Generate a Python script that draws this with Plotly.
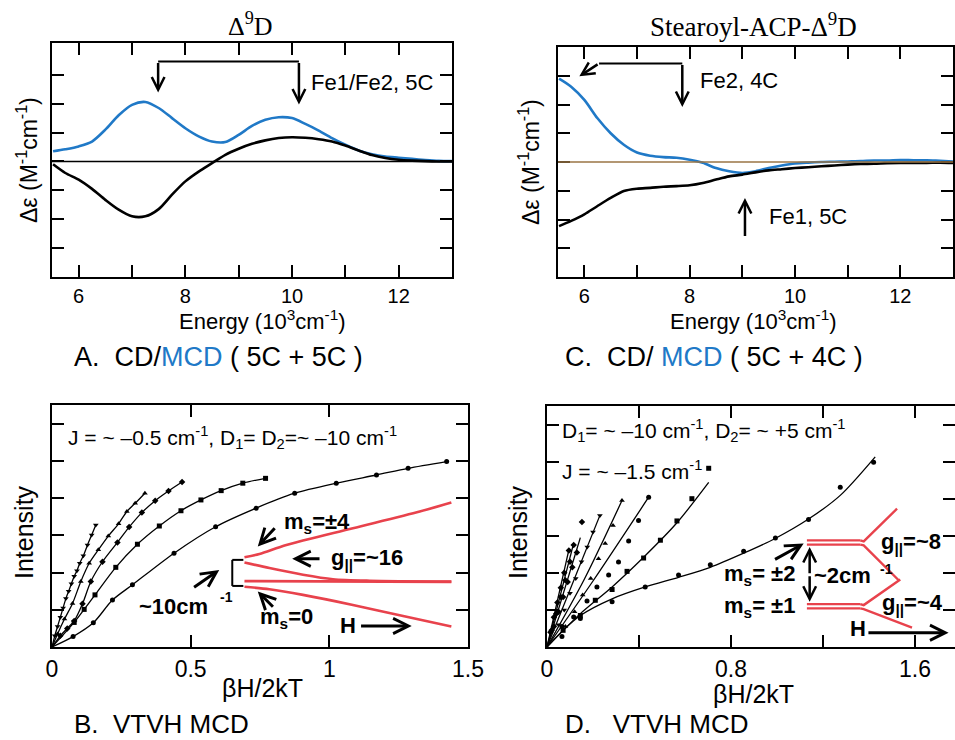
import plotly.graph_objects as go

W, H = 955, 740
SANS = "Liberation Sans, Arial, sans-serif"
SERIF = "Liberation Serif, Times New Roman, serif"
BLUE = "#2079c7"
RED = "#e8424c"

# ---------------- Panel A (Delta9D): CD (black) / MCD (blue) ----------------
energy_a = [5.52, 5.75, 6.0, 6.25, 6.5, 6.75, 7.0, 7.25, 7.5, 7.75, 8.0, 8.25, 8.5, 8.75,
            9.0, 9.25, 9.5, 9.75, 10.0, 10.25, 10.5, 10.75, 11.0, 11.25, 11.5, 11.75,
            12.0, 12.25, 12.5, 12.75, 13.0]
mcd_a = [0.35, 0.42, 0.52, 0.69, 1.10, 1.60, 1.96, 2.06, 1.85, 1.50, 1.15, 0.87, 0.69, 0.67,
         0.92, 1.23, 1.44, 1.53, 1.50, 1.30, 1.07, 0.81, 0.58, 0.38, 0.25, 0.17,
         0.13, 0.09, 0.05, 0.02, 0.01]
cd_a = [-0.10, -0.40, -0.63, -0.95, -1.33, -1.67, -1.90, -1.90, -1.65, -1.15, -0.69, -0.35, -0.06, 0.23,
        0.44, 0.61, 0.73, 0.81, 0.84, 0.82, 0.77, 0.69, 0.55, 0.38, 0.22, 0.12,
        0.06, 0.03, 0.01, 0.0, 0.0]

# ---------------- Panel C (Stearoyl-ACP-Delta9D) ----------------
energy_c = energy_a
mcd_c = [2.90, 2.62, 2.16, 1.52, 1.00, 0.60, 0.33, 0.22, 0.17, 0.15, 0.08, -0.03, -0.21, -0.32,
         -0.38, -0.32, -0.21, -0.12, -0.05, -0.02, 0.0, 0.01, 0.02, 0.03, 0.05, 0.05,
         0.07, 0.06, 0.06, 0.04, 0.02]
cd_c = [-2.23, -2.05, -1.82, -1.53, -1.25, -1.01, -0.93, -0.90, -0.86, -0.84, -0.81, -0.73, -0.61, -0.50,
        -0.44, -0.36, -0.29, -0.25, -0.21, -0.18, -0.15, -0.12, -0.09, -0.07, -0.06, -0.04,
        -0.03, -0.03, -0.03, -0.02, -0.03]

# ---------------- Panel B (VTVH MCD, 5C + 5C) ----------------
b1_x = [0.076, 0.149, 0.218, 0.29, 0.44, 0.59, 0.736, 0.875, 1.025, 1.17, 1.284, 1.423]
b1_y = [0.28, 0.65, 1.26, 1.67, 2.52, 3.23, 3.73, 4.13, 4.40, 4.62, 4.80, 4.98]
b2_x = [0.08, 0.116, 0.155, 0.23, 0.308, 0.387, 0.465, 0.537, 0.61, 0.688, 0.77]
b2_y = [0.66, 1.01, 1.40, 2.14, 2.76, 3.25, 3.66, 3.95, 4.20, 4.40, 4.53]
b3_x = [0.03, 0.055, 0.08, 0.11, 0.14, 0.182, 0.236, 0.278, 0.324, 0.372, 0.42, 0.469]
b3_y = [0.30, 0.50, 0.70, 1.16, 1.76, 2.29, 2.81, 3.22, 3.61, 3.93, 4.19, 4.43]
b4_x = [0.02, 0.045, 0.074, 0.104, 0.134, 0.167, 0.203, 0.24, 0.27, 0.30, 0.335]
b4_y = [0.35, 0.75, 1.17, 1.76, 2.25, 2.61, 2.98, 3.31, 3.64, 3.86, 4.13]
b5_x = [0.01, 0.02, 0.03, 0.04, 0.05, 0.06, 0.07, 0.08, 0.09, 0.10, 0.113, 0.128, 0.143, 0.158]
b5_y = [0.30, 0.55, 0.80, 1.05, 1.30, 1.50, 1.70, 1.90, 2.05, 2.25, 2.45, 2.74, 3.01, 3.28]

# Zeeman diagram (panel B inset)
zb_up_x = [0.694, 0.748, 0.845, 1.085, 1.326, 1.44]
zb_up_y = [2.41, 2.50, 2.74, 3.19, 3.64, 3.88]
zb_mid_x = [0.694, 0.784, 0.905, 1.013, 1.146, 1.44]
zb_mid_y = [2.27, 2.12, 1.94, 1.82, 1.78, 1.76]
zb_flat_x = [0.694, 1.44]
zb_flat_y = [1.77, 1.75]
zb_low_x = [0.694, 0.784, 0.905, 1.085, 1.266, 1.44]
zb_low_y = [1.62, 1.55, 1.40, 1.13, 0.83, 0.55]

# ---------------- Panel D (VTVH MCD, 5C + 4C) ----------------
d1_x = [0.065, 0.145, 0.283, 0.427, 0.572, 0.71, 0.855, 0.993, 1.137, 1.275, 1.42]
d1_y = [0.28, 0.77, 1.22, 1.62, 1.94, 2.22, 2.58, 2.94, 3.44, 4.31, 4.98]
d1_fit_x = [0, 0.065, 0.145, 0.283, 0.427, 0.572, 0.71, 0.855, 0.99, 1.137, 1.275, 1.427]
d1_fit_y = [0, 0.42, 0.85, 1.30, 1.62, 1.88, 2.15, 2.53, 2.92, 3.45, 4.09, 5.13]
d2_x = [0.07, 0.145, 0.21, 0.283, 0.348, 0.42, 0.493, 0.565, 0.63, 0.703]
d2_y = [0.45, 0.85, 1.26, 1.55, 2.04, 2.40, 2.88, 3.40, 4.00, 4.82]
d2_fit_x = [0, 0.145, 0.283, 0.42, 0.565, 0.703]
d2_fit_y = [0, 0.90, 1.62, 2.42, 3.35, 4.44]
d3_x = [0.065, 0.116, 0.174, 0.217, 0.268, 0.311, 0.355, 0.398, 0.442]
d3_y = [0.55, 0.81, 1.24, 1.62, 1.94, 2.29, 2.86, 3.41, 4.04]
d3_fit_x = [0, 0.2, 0.442]
d3_fit_y = [0, 1.78, 4.04]
d4_x = [0.08, 0.12, 0.155, 0.19, 0.224, 0.253, 0.287, 0.326]
d4_y = [0.55, 0.95, 1.40, 1.85, 2.38, 2.79, 3.28, 3.95]
d4_fit_x = [0, 0.16, 0.326]
d4_fit_y = [0, 1.80, 3.95]
d5_x = [0.05, 0.075, 0.10, 0.125, 0.15, 0.175, 0.20, 0.23]
d5_y = [0.60, 1.00, 1.45, 1.85, 2.30, 2.70, 3.10, 3.55]
d5_fit_x = [0, 0.23]
d5_fit_y = [0, 3.55]
d6_x = [0.03, 0.05, 0.07, 0.09, 0.11, 0.13, 0.152]
d6_y = [0.55, 0.95, 1.35, 1.75, 2.15, 2.55, 3.37]
d6_fit_x = [0, 0.145]
d6_fit_y = [0, 2.95]
d7_x = [0.02, 0.04, 0.06, 0.08, 0.10, 0.116]
d7_y = [0.45, 0.90, 1.35, 1.80, 2.30, 2.75]
d7_fit_x = [0, 0.116]
d7_fit_y = [0, 2.80]
d8_x = [0.015, 0.03, 0.045, 0.06, 0.075, 0.095]
d8_y = [0.40, 0.80, 1.20, 1.60, 2.00, 2.60]
d8_fit_x = [0, 0.095]
d8_fit_y = [0, 2.62]

# Energy-level diagram (panel D inset)
zd_lvl_x = [1.13, 1.362]
zd_lvl2_y = [2.876, 2.76]
zd_lvl1_y = [1.156, 1.04]
zd_up2_x = [1.362, 1.377, 1.522]
zd_up2_y = [2.876, 2.85, 3.73]
zd_dn2_x = [1.362, 1.377, 1.529]
zd_dn2_y = [2.76, 2.74, 1.80]
zd_up1_x = [1.362, 1.377, 1.536]
zd_up1_y = [1.156, 1.13, 1.82]
zd_dn1_x = [1.362, 1.377, 1.587]
zd_dn1_y = [1.04, 1.02, 0.52]

fig = go.Figure()


def line(x, y, xa, ya, color="black", width=1.3, shape="spline", smoothing=0.8):
    fig.add_trace(go.Scatter(x=x, y=y, xaxis=xa, yaxis=ya, mode="lines",
                             line=dict(color=color, width=width, shape=shape,
                                       **({"smoothing": smoothing} if shape == "spline" else {})),
                             showlegend=False, hoverinfo="skip"))


def pts(x, y, xa, ya, symbol, size=5):
    fig.add_trace(go.Scatter(x=x, y=y, xaxis=xa, yaxis=ya, mode="markers",
                             marker=dict(color="black", size=size, symbol=symbol),
                             showlegend=False, hoverinfo="skip"))


# Panel A
line(energy_a, mcd_a, "x", "y", BLUE, 2.6)
line(energy_a, cd_a, "x", "y", "black", 2.6)
# Panel C
line(energy_c, mcd_c, "x2", "y2", BLUE, 2.6)
line(energy_c, cd_c, "x2", "y2", "black", 2.6)

# Panel B
for bx, by, sym in [(b1_x, b1_y, "circle"), (b2_x, b2_y, "square"), (b3_x, b3_y, "diamond"),
                    (b4_x, b4_y, "triangle-up"), (b5_x, b5_y, "triangle-down")]:
    line([0] + bx, [0] + by, "x3", "y3", "black", 1.3)
    pts(bx, by, "x3", "y3", sym, 5)
for zx, zy in [(zb_up_x, zb_up_y), (zb_mid_x, zb_mid_y), (zb_flat_x, zb_flat_y), (zb_low_x, zb_low_y)]:
    line(zx, zy, "x3", "y3", RED, 2.6)

# Panel D
for fx, fy in [(d1_fit_x, d1_fit_y), (d2_fit_x, d2_fit_y), (d3_fit_x, d3_fit_y), (d4_fit_x, d4_fit_y),
               (d5_fit_x, d5_fit_y), (d6_fit_x, d6_fit_y), (d7_fit_x, d7_fit_y), (d8_fit_x, d8_fit_y)]:
    line(fx, fy, "x4", "y4", "black", 1.3)
for dx, dy, sym in [(d1_x, d1_y, "circle"), (d2_x, d2_y, "square"), (d3_x, d3_y, "circle"),
                    (d4_x, d4_y, "triangle-up"), (d5_x, d5_y, "triangle-down"),
                    (d6_x, d6_y, "diamond"), (d7_x, d7_y, "diamond"), (d8_x, d8_y, "diamond")]:
    pts(dx, dy, "x4", "y4", sym, 5)
for yv in zd_lvl2_y + zd_lvl1_y:
    line(zd_lvl_x, [yv, yv], "x4", "y4", RED, 2.2, shape="linear")
for zx, zy in [(zd_up2_x, zd_up2_y), (zd_dn2_x, zd_dn2_y), (zd_up1_x, zd_up1_y), (zd_dn1_x, zd_dn1_y)]:
    line(zx, zy, "x4", "y4", RED, 2.4, shape="linear")

# ---------------- Axes ----------------
def dom_x(a, b):
    return [a / W, min(b / W, 1.0)]


def dom_y(top, bottom):
    return [1 - bottom / H, 1 - top / H]


axis_common = dict(showline=True, linewidth=2, linecolor="black", mirror="allticks",
                   ticks="inside", ticklen=12, tickwidth=2, tickcolor="black",
                   showgrid=False, zeroline=False, automargin=False)

fig.update_layout(
    xaxis=dict(domain=dom_x(52, 452), range=[5.5, 13], anchor="y",
               tickvals=[6, 7, 8, 9, 10, 11, 12], ticktext=["6", "", "8", "", "10", "", "12"],
               tickfont=dict(family=SANS, size=20, color="black"), **axis_common),
    yaxis=dict(domain=dom_y(43, 277), range=[-4.0, 4.1], anchor="x",
               tickvals=[-3, -2, -1, 0, 1, 2, 3], showticklabels=False, **axis_common),
    xaxis2=dict(domain=dom_x(558, 953), range=[5.5, 13], anchor="y2",
                tickvals=[6, 7, 8, 9, 10, 11, 12], ticktext=["6", "", "8", "", "10", "", "12"],
                tickfont=dict(family=SANS, size=20, color="black"), **axis_common),
    yaxis2=dict(domain=dom_y(47, 277), range=[-4.0, 4.0], anchor="x2",
                tickvals=[-3, -2, -1, 0, 1, 2, 3], showticklabels=False, **axis_common),
    xaxis3=dict(domain=dom_x(52, 468), range=[0, 1.5], anchor="y3",
                tickvals=[0, 0.5, 1, 1.5], ticktext=["0", "0.5", "1", "1.5"],
                tickfont=dict(family=SANS, size=23, color="black"), **axis_common),
    yaxis3=dict(domain=dom_y(405, 647), range=[0, 6.5], anchor="x3",
                tickvals=[1, 2, 3, 4, 5, 6], showticklabels=False, **axis_common),
    xaxis4=dict(domain=dom_x(547, 955), range=[0, (955 - 547) / 230.0], anchor="y4",
                tickvals=[0, 0.4, 0.8, 1.2, 1.6], ticktext=["0", "", "0.8", "", "1.6"],
                tickfont=dict(family=SANS, size=23, color="black"), **axis_common),
    yaxis4=dict(domain=dom_y(406, 647), range=[0, 6.5], anchor="x4",
                tickvals=[1, 2, 3, 4, 5, 6], showticklabels=False, **axis_common),
)

shapes = []
# zero lines
shapes.append(dict(type="line", xref="x", yref="y", x0=5.5, x1=13, y0=0, y1=0,
                   line=dict(color="black", width=1.5)))
shapes.append(dict(type="line", xref="x2", yref="y2", x0=5.5, x1=13, y0=0, y1=0,
                   line=dict(color="#9a7444", width=1.5)))
# panel A bracket line
shapes.append(dict(type="line", xref="x", yref="y", x0=7.49, x1=10.13, y0=3.46, y1=3.46,
                   line=dict(color="black", width=2)))
# panel C horizontal line
shapes.append(dict(type="line", xref="x2", yref="y2", x0=6.28, x1=7.86, y0=3.43, y1=3.43,
                   line=dict(color="black", width=2)))
# panel B bracket
for (x0, y0, x1, y1) in [(0.65, 2.34, 0.65, 1.64), (0.65, 2.34, 0.69, 2.34), (0.65, 1.64, 0.69, 1.64)]:
    shapes.append(dict(type="line", xref="x3", yref="y3", x0=x0, x1=x1, y0=y0, y1=y1,
                       line=dict(color="black", width=2)))
fig.update_layout(shapes=shapes)

ann = []


def txt(x, y, s, xref="paper", yref="paper", size=20, family=SANS, xanchor="left",
        yanchor="middle", color="black", angle=0, bold=False):
    if bold:
        s = "<b>" + s + "</b>"
    ann.append(dict(x=x, y=y, xref=xref, yref=yref, text=s, showarrow=False,
                    font=dict(family=family, size=size, color=color),
                    xanchor=xanchor, yanchor=yanchor, textangle=angle))


def arr(x0, y0, x1, y1, xr, yr, width=2.5, size=1.0):
    ann.append(dict(x=x1, y=y1, ax=x0, ay=y0, xref=xr, yref=yr, axref=xr, ayref=yr, text="",
                    showarrow=True, arrowhead=5, arrowsize=size, arrowwidth=width,
                    arrowcolor="black", standoff=0, startstandoff=0))


def px(x):
    return x / W


def py(y):
    return 1 - y / H


NB = "\u00a0"
# Titles
txt(px(250), py(25), "Δ<sup>9</sup>D", size=26, family=SERIF, xanchor="center")
txt(px(753), py(25), "Stearoyl-ACP-Δ<sup>9</sup>D", size=27, family=SERIF, xanchor="center")

# Axis titles
xt = "Energy (10<sup>3</sup>cm<sup>-1</sup>)"
txt(px(262), py(320), xt, size=22, xanchor="center")
txt(px(753), py(320), xt, size=22, xanchor="center")
yt = "Δε (M<sup>-1</sup>cm<sup>-1</sup>)"
txt(px(27), py(160), yt, size=23, xanchor="center", angle=-90)
txt(px(529), py(162), yt, size=23, xanchor="center", angle=-90)
txt(px(262), py(688), "βH/2kT", size=25, xanchor="center")
txt(px(753), py(694), "βH/2kT", size=25, xanchor="center")
txt(px(24), py(532), "Intensity", size=25, xanchor="center", angle=-90)
txt(px(518), py(532), "Intensity", size=25, xanchor="center", angle=-90)

# Captions
txt(px(72), py(357), "A." + NB * 2 + "CD/<span style='color:" + BLUE + "'>MCD</span>" + NB + "(" + NB + "5C + 5C" + NB + ")", size=27)
txt(px(563), py(357), "C." + NB * 2 + "CD/" + NB + "<span style='color:" + BLUE + "'>MCD</span>" + NB + "(" + NB + "5C + 4C" + NB + ")", size=27)
txt(px(72), py(724), "B." + NB * 2 + "VTVH MCD", size=26)
txt(px(563), py(724), "D." + NB * 3 + "VTVH MCD", size=26)

# Panel A annotations
arr(7.49, 3.46, 7.49, 2.39, "x", "y")
arr(10.13, 3.46, 10.13, 1.97, "x", "y")
txt(10.32, 2.73, "Fe1/Fe2, 5C", "x", "y", size=22)

# Panel C annotations
arr(6.28, 3.43, 5.905, 2.98, "x2", "y2")
arr(7.86, 3.43, 7.86, 1.91, "x2", "y2")
arr(9.05, -2.63, 9.05, -1.25, "x2", "y2")
txt(8.16, 2.84, "Fe2, 4C", "x2", "y2", size=22)
txt(9.47, -1.90, "Fe1, 5C", "x2", "y2", size=22)

# Panel B annotations
txt(0.05, 5.62, "J = ~ –0.5 cm<sup>-1</sup>, D<sub>1</sub>= D<sub>2</sub>=~ –10 cm<sup>-1</sup>", "x3", "y3", size=21)
arr(0.808, 3.23, 0.742, 2.70, "x3", "y3", width=3)
arr(0.97, 2.37, 0.866, 2.37, "x3", "y3", width=3)
arr(0.802, 1.04, 0.742, 1.49, "x3", "y3", width=3)
arr(0.507, 1.58, 0.603, 2.07, "x3", "y3", width=3)
arr(1.109, 0.565, 1.297, 0.565, "x3", "y3", width=3)
txt(0.828, 3.33, "m<sub>s</sub>=±4", "x3", "y3", size=22, bold=True)
txt(1.0, 2.37, "g<sub>||</sub>=~16", "x3", "y3", size=22, bold=True)
txt(0.307, 1.08, "~10cm", "x3", "y3", size=22, bold=True)
txt(0.597, 1.34, "-1", "x3", "y3", size=14, bold=True)
txt(0.741, 0.78, "m<sub>s</sub>=0", "x3", "y3", size=22, bold=True)
txt(1.03, 0.59, "H", "x3", "y3", size=22, bold=True)

# Panel D annotations
txt(0.058, 5.83, "D<sub>1</sub>= ~ –10 cm<sup>-1</sup>, D<sub>2</sub>= ~ +5 cm<sup>-1</sup>", "x4", "y4", size=21)
txt(0.058, 4.78, "J = ~ –1.5 cm<sup>-1</sup>", "x4", "y4", size=21)
arr(0.985, 2.34, 1.116, 2.79, "x4", "y4", width=3)
arr(1.142, 1.95, 1.142, 2.70, "x4", "y4", width=2.5)
arr(1.142, 1.95, 1.142, 1.22, "x4", "y4", width=2.5)
arr(1.391, 0.385, 1.746, 0.385, "x4", "y4", width=3)
txt(0.761, 1.94, "m<sub>s</sub>= ±2", "x4", "y4", size=22, bold=True)
txt(0.761, 1.08, "m<sub>s</sub>= ±1", "x4", "y4", size=22, bold=True)
txt(1.152, 1.94, "~2cm", "x4", "y4", size=22, bold=True)
txt(1.44, 2.10, "-1", "x4", "y4", size=14, bold=True)
txt(1.442, 2.80, "g<sub>||</sub>=~8", "x4", "y4", size=22, bold=True)
txt(1.449, 1.17, "g<sub>||</sub>=~4", "x4", "y4", size=22, bold=True)
txt(1.31, 0.51, "H", "x4", "y4", size=22, bold=True)

fig.update_layout(annotations=ann, width=W, height=H, autosize=False,
                  margin=dict(l=0, r=0, t=0, b=0, pad=0),
                  plot_bgcolor="white", paper_bgcolor="white", showlegend=False)

fig.write_html("out.html", config={"displayModeBar": False},
               post_script="document.body.style.margin='0';document.body.style.overflow='hidden';")
